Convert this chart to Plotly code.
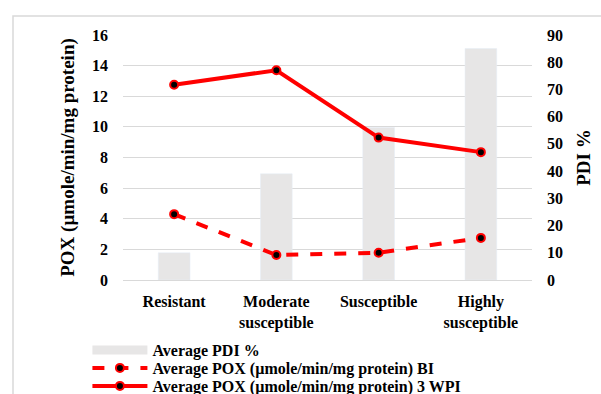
import plotly.graph_objects as go

categories = ["Resistant", "Moderate<br>susceptible", "Susceptible", "Highly<br>susceptible"]
pdi = [10, 39, 56, 85]
pox_bi = [4.3, 1.63, 1.78, 2.75]
pox_3wpi = [12.75, 13.7, 9.3, 8.35]

FONT = "Liberation Serif, Times New Roman, serif"
red = "#ff0000"
bar_color = "#e7e6e6"
grid_color = "#d9d9d9"

fig = go.Figure()
fig.add_trace(go.Bar(x=categories, y=pdi, name="Average PDI %", marker_color=bar_color,
                     width=0.31, yaxis="y", showlegend=False))
# legend entry for bars drawn as a wide swatch
fig.add_trace(go.Scatter(x=[None], y=[None], name="<b>Average PDI %</b>", mode="lines",
                         line=dict(color=bar_color, width=9), yaxis="y", legend="legend"))
fig.add_trace(go.Scatter(x=categories, y=pox_bi, name="<b>Average POX (µmole/min/mg protein) BI</b>",
                         mode="lines+markers", yaxis="y2", legend="legend2",
                         line=dict(color=red, width=4, dash="dash"),
                         marker=dict(color="black", size=8, line=dict(color=red, width=2))))
fig.add_trace(go.Scatter(x=categories, y=pox_3wpi, name="<b>Average POX (µmole/min/mg protein) 3 WPI</b>",
                         mode="lines+markers", yaxis="y2", legend="legend3",
                         line=dict(color=red, width=4),
                         marker=dict(color="black", size=8, line=dict(color=red, width=2))))

def leg(ypix):
    return dict(orientation="v", x=-0.087, xanchor="left", y=(280 - ypix) / 245, yanchor="middle",
                font=dict(family=FONT, size=16), itemwidth=55,
                bgcolor="rgba(0,0,0,0)")

fig.update_layout(
    width=601, height=394,
    margin=dict(l=123, r=69, t=35, b=114, autoexpand=False),
    paper_bgcolor="white", plot_bgcolor="white",
    font=dict(family=FONT, size=16, color="black"),
    xaxis=dict(tickfont=dict(family=FONT, size=16), showline=True, linecolor=grid_color,
               linewidth=1, ticks="", ticklabelstandoff=7,
               tickprefix="<b>", ticksuffix="</b>"),
    yaxis=dict(range=[0, 90], dtick=10, side="right", showgrid=False, zeroline=False,
               ticklabelstandoff=14,
               title=dict(text="<b>PDI %</b>", standoff=14), tickprefix="<b>", ticksuffix="</b>"),
    yaxis2=dict(range=[0, 16], dtick=2, side="left", overlaying="y", showgrid=True,
                gridcolor=grid_color, zeroline=False, ticklabelstandoff=14,
                title=dict(text="<b>POX (µmole/min/mg protein)</b>", standoff=12),
                tickprefix="<b>", ticksuffix="</b>"),
    showlegend=True,
    legend=leg(350),
    legend2=leg(368),
    legend3=leg(386),
    shapes=[dict(type="rect", xref="paper", yref="paper",
                 x0=-110/409, x1=1.5, y0=-2, y1=(280-16)/245,
                 line=dict(color=grid_color, width=1.5), fillcolor="rgba(0,0,0,0)", layer="below")],
)

fig.write_html("out.html", config={"displayModeBar": False},
               post_script="document.body.style.margin='0';")
